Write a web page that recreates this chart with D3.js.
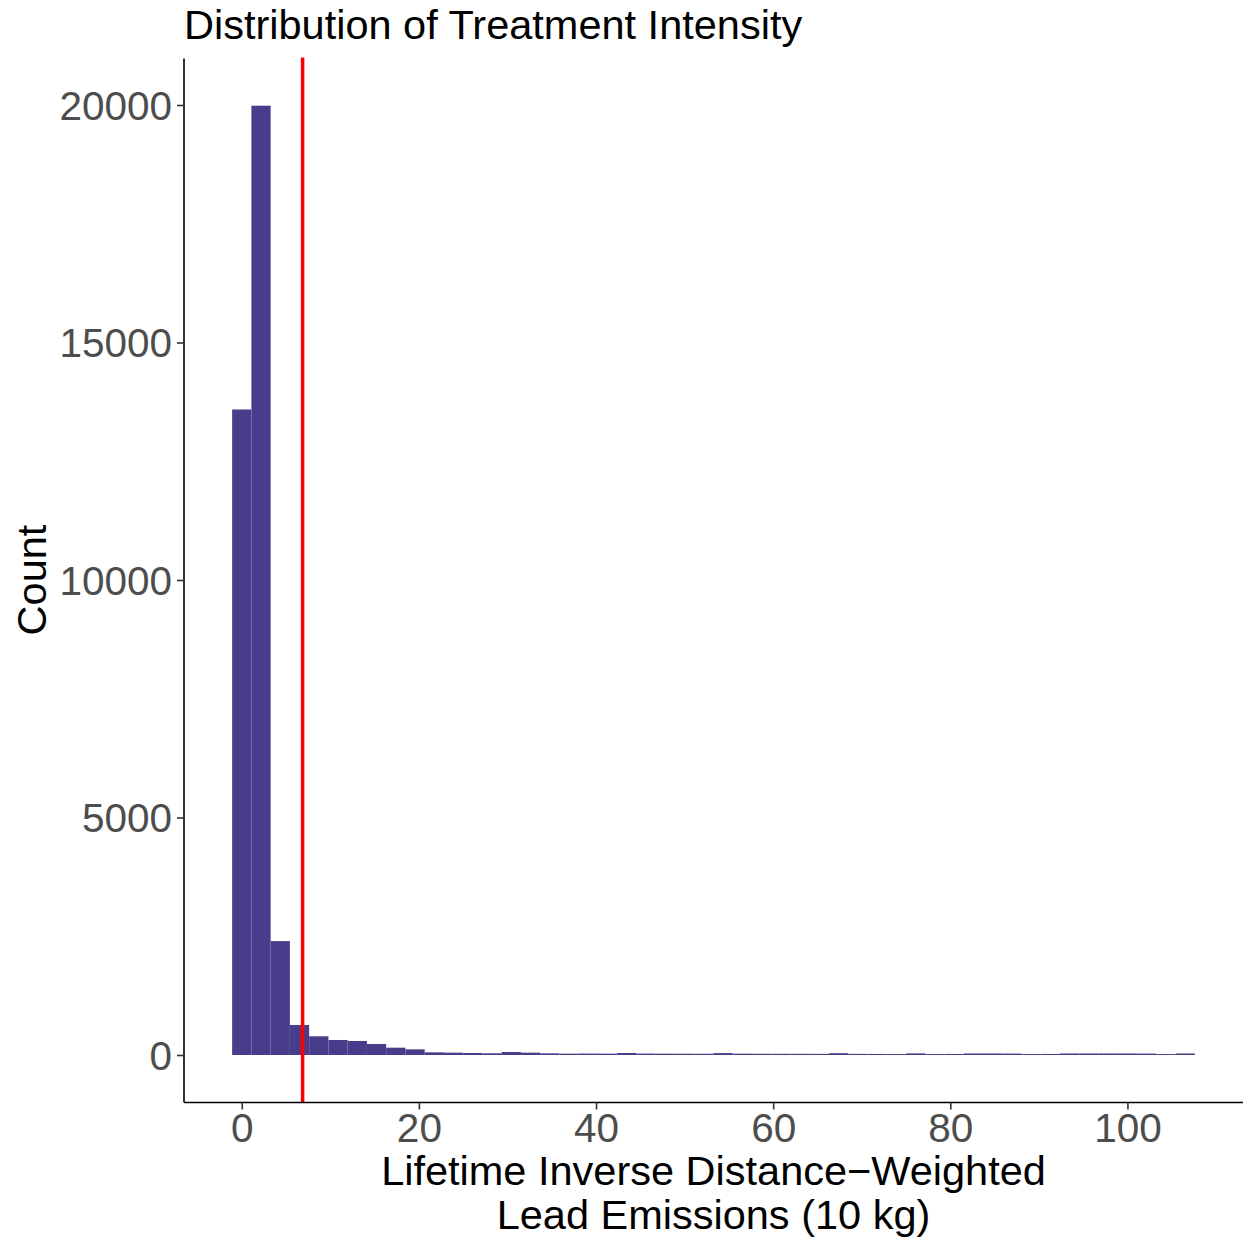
<!DOCTYPE html>
<html>
<head>
<meta charset="utf-8">
<script src="https://cdn.jsdelivr.net/npm/d3@7"></script>
<style>
  body { margin: 0; background: #fff; }
  text { font-family: "Liberation Sans", Arial, sans-serif; }
</style>
</head>
<body>
<svg id="chart" width="1243" height="1243"></svg>
<script>
// histogram counts, 50 bins
var binStart = -1.087;
var binWidth = 2.174;
var counts = [13590, 19985, 2398, 632, 394, 316, 295, 232, 154, 119,
              56, 49, 42, 36, 63, 49, 35, 28, 30, 28,
              42, 30, 28, 27, 26, 40, 28, 26, 25, 25,
              24, 38, 24, 22, 20, 34, 20, 22, 32, 32,
              30, 20, 22, 32, 32, 32, 32, 30, 20, 32];
var cutoff = 6.87;
var xTicks = [0, 20, 40, 60, 80, 100];
var yTicks = [0, 5000, 10000, 15000, 20000];

var bins = counts.map(function(c, i){
    return { x0: binStart + i * binWidth, x1: binStart + (i + 1) * binWidth, n: c };
});

var panelL = 184, panelR = 1243, panelT = 57.5, panelB = 1102.5;

var dataMin = binStart, dataMax = binStart + counts.length * binWidth;
var pad = (dataMax - dataMin) * 0.05;
var x = d3.scaleLinear().domain([dataMin - pad, dataMax + pad]).range([panelL, panelR]);
var y = d3.scaleLinear().domain([-1000, 21000]).range([panelB, panelT]);

var svg = d3.select('#chart');

svg.selectAll('rect.bar')
    .data(bins)
    .enter()
    .append('rect')
    .attr('class', 'bar')
    .attr('x', function(d){ return x(d.x0); })
    .attr('width', function(d){ return x(d.x1) - x(d.x0); })
    .attr('y', function(d){ return y(d.n); })
    .attr('height', function(d){ return y(0) - y(d.n); })
    .style('fill', '#483D8B');

svg.append('line')
    .attr('x1', x(cutoff)).attr('x2', x(cutoff))
    .attr('y1', panelT).attr('y2', panelB)
    .style('stroke', '#FF0000')
    .style('stroke-width', 3.5);

// axes
var xAxis = svg.append('g')
    .attr('transform', 'translate(0,' + panelB + ')')
    .call(d3.axisBottom(x).tickValues(xTicks).tickSize(7).tickPadding(4));
var yAxis = svg.append('g')
    .attr('transform', 'translate(' + panelL + ',0)')
    .call(d3.axisLeft(y).tickValues(yTicks).tickSize(7).tickPadding(5).tickFormat(d3.format('d')));

[xAxis, yAxis].forEach(function(a){
    a.select('.domain').style('stroke', '#000').style('stroke-width', 1.6);
    a.selectAll('.tick line').style('stroke', '#333').style('stroke-width', 1.6);
    a.selectAll('.tick text')
        .style('font-size', '40.5px')
        .style('fill', '#4D4D4D')
        .style('font-family', '"Liberation Sans", Arial, sans-serif');
});
xAxis.select('.domain').attr('d', 'M' + panelL + ',0H' + panelR);
yAxis.select('.domain').attr('d', 'M0,' + (panelT + 1) + 'V' + panelB);
xAxis.selectAll('.tick text').attr('dy', '0.71em');
yAxis.selectAll('.tick text').attr('dy', '0.35em');

// titles
svg.append('text')
    .attr('x', panelL).attr('y', 39)
    .style('font-size', '41.5px')
    .text('Distribution of Treatment Intensity');

svg.append('text')
    .attr('x', (panelL + panelR) / 2).attr('y', 1185)
    .attr('text-anchor', 'middle')
    .style('font-size', '41.5px')
    .text('Lifetime Inverse Distance\u2212Weighted');
svg.append('text')
    .attr('x', (panelL + panelR) / 2).attr('y', 1229)
    .attr('text-anchor', 'middle')
    .style('font-size', '41.5px')
    .text('Lead Emissions (10 kg)');

svg.append('text')
    .attr('transform', 'translate(46,' + ((panelT + panelB) / 2) + ') rotate(-90)')
    .attr('text-anchor', 'middle')
    .style('font-size', '41.5px')
    .text('Count');
</script>
</body>
</html>
